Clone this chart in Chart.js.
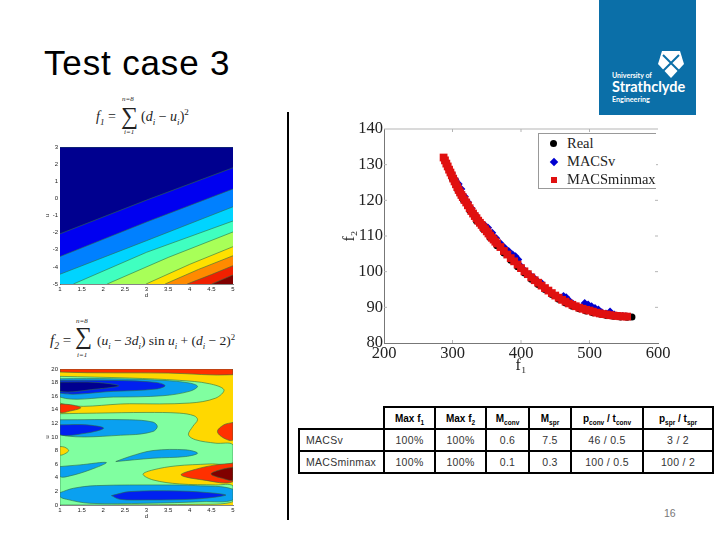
<!DOCTYPE html>
<html>
<head>
<meta charset="utf-8">
<title>Test case 3</title>
<script src="https://cdn.jsdelivr.net/npm/chart.js@4/dist/chart.umd.min.js"></script>
<style>
  html, body { margin: 0; padding: 0; background: #fff; }
  #page { position: relative; width: 720px; height: 540px; overflow: hidden; font-family: "Liberation Sans", Arial, sans-serif; }
  #page > * { position: absolute; }
  #title { left: 44px; top: 43px; font-size: 35px; line-height: 40px; color: #000; white-space: nowrap; letter-spacing: 0.85px; }
  #logo { left: 599px; top: 0; width: 97px; height: 115px; background: #0b6fa8; color: #fff; font-family: Lato, "Open Sans", sans-serif; font-weight: bold; }
  #logo div { position: absolute; left: 13px; white-space: nowrap; }
  #divider { left: 287px; top: 112px; width: 2px; height: 408px; background: #000; }
  #pagenum { left: 664px; top: 507px; font-size: 10.5px; color: #777; }
  .f { font-family: "Liberation Serif", serif; color: #222; white-space: nowrap; font-style: italic; }
  .sum { font-style: normal; }
  sub, sup { font-size: 65%; line-height: 0; }
  #legend { left: 538px; top: 133px; width: 117px; height: 54px; background: #fff; border: 1px solid #999; border-right: none; font-family: "Liberation Serif", serif; font-size: 14.5px; color: #222; }
  #legend div { position: absolute; left: 28px; line-height: 18px; white-space: nowrap; }
  #legend i { position: absolute; }
  #stats { left: 298px; top: 406px; border-collapse: collapse; table-layout: fixed; width: 414px; font-size: 10.5px; color: #333; letter-spacing: 0.3px; }
  #stats td, #stats th { border: 2px solid #000; padding: 0; text-align: center; height: 20px; overflow: hidden; }
  #stats th { font-size: 10px; color: #000; letter-spacing: 0; }
  #stats th:first-child { border-top: none; border-left: none; }
  #stats td:first-child { text-align: left; padding-left: 6px; }
</style>
</head>
<body>
<div id="page">
  <div id="title">Test case 3</div>
  <div id="logo">
    <svg style="position:absolute;left:59px;top:51px" width="26" height="27" viewBox="0 0 26 27">
      <polygon points="4,0 22,0 26,13 13,27 0,13" fill="#fff"/>
      <path d="M5 4 L21 20 M21 4 L5 20" stroke="#0b6fa8" stroke-width="2"/>
    </svg>
    <div style="top:71px;font-size:7px">University of</div>
    <div style="top:78px;font-size:14.5px">Strathclyde</div>
    <div style="top:95px;font-size:7.2px">Engineering</div>
  </div>

  <div class="f" style="left:96px;top:109px;font-size:14px">f<sub>1</sub> <span class="sum">=</span></div>
  <div class="f" style="left:122px;top:95px;font-size:7px">n=8</div>
  <div class="f sum" style="left:121px;top:103px;font-size:24px">∑</div>
  <div class="f" style="left:124px;top:128px;font-size:7px">i=1</div>
  <div class="f" style="left:141px;top:109px;font-size:14px"><span class="sum">(</span>d<sub>i</sub> <span class="sum">−</span> u<sub>i</sub><span class="sum">)<sup>2</sup></span></div>

  <div class="f" style="left:50px;top:332px;font-size:15px">f<sub>2</sub> <span class="sum">=</span></div>
  <div class="f" style="left:76px;top:317px;font-size:7px">n=8</div>
  <div class="f sum" style="left:75px;top:323px;font-size:24px">∑</div>
  <div class="f" style="left:77px;top:351px;font-size:7px">i=1</div>
  <div class="f" style="left:97px;top:333px;font-size:13.5px"><span class="sum">(</span>u<sub>i</sub> <span class="sum">−</span> 3d<sub>i</sub><span class="sum">) sin </span>u<sub>i</sub> <span class="sum">+ (</span>d<sub>i</sub> <span class="sum">− 2)<sup>2</sup></span></div>

  <canvas id="chart-f1" width="201" height="170" style="left:44px;top:140px"></canvas>
  <canvas id="chart-f2" width="201" height="162" style="left:44px;top:362px"></canvas>
  <div id="divider"></div>
  <canvas id="chart-front" width="340" height="270" style="left:340px;top:110px"></canvas>

  <div id="legend">
    <i style="left:11px;top:6px;width:7px;height:7px;border-radius:50%;background:#000"></i>
    <div style="top:0px">Real</div>
    <i style="left:12px;top:25px;width:6px;height:6px;background:#0000d0;transform:rotate(45deg)"></i>
    <div style="top:18px">MACSv</div>
    <i style="left:12px;top:43px;width:6px;height:6px;background:#e01010"></i>
    <div style="top:36px">MACSminmax</div>
  </div>

  <table id="stats">
    <colgroup><col style="width:85px"><col style="width:51px"><col style="width:51px"><col style="width:43px"><col style="width:42px"><col style="width:72px"><col style="width:70px"></colgroup>
    <tr><th></th><th>Max f<sub>1</sub></th><th>Max f<sub>2</sub></th><th>M<sub>conv</sub></th><th>M<sub>spr</sub></th><th>p<sub>conv</sub> / t<sub>conv</sub></th><th>p<sub>spr</sub> / t<sub>spr</sub></th></tr>
    <tr><td>MACSv</td><td>100%</td><td>100%</td><td>0.6</td><td>7.5</td><td>46 / 0.5</td><td>3 / 2</td></tr>
    <tr><td>MACSminmax</td><td>100%</td><td>100%</td><td>0.1</td><td>0.3</td><td>100 / 0.5</td><td>100 / 2</td></tr>
  </table>
  <div id="pagenum">16</div>
</div>

<script>
// Pareto front
const realX = [287,293,300,308,316,325,335,345,355,365,375,385,395,405,415,425,435,445,455,465,475,485,495,505,515,525,535,545,555,562];
const realY = [131.9,129.2,126,122.8,120.1,117.2,114.2,111.9,109.5,107.3,105.2,103.2,101.4,99.6,97.9,96.4,95,93.6,92.3,91.2,90.3,89.6,89,88.5,88.1,87.7,87.5,87.3,87.2,87.3];
const macsvX = [290,294,299,304,309,313,318,323,328,333,338,343,348,352,358,364,370,376,382,388,392,396,400,405,412,418,424,430,436,442,448,455,462,466,470,476,482,488,493,498,503,508,513,518,524,530,536,542,548,553];
const macsvY = [130.8,129.2,127.6,125.9,124.6,123.2,121.1,119.4,117.7,116,114.6,113.6,112.9,112.3,110.9,109.4,108,106.8,105.8,104.8,104.3,103.4,101.5,100.4,99.3,98.4,97.4,96.8,95,94.5,93.5,92.8,93.2,92.8,92,91,90.2,90,91.2,90.8,90.3,89.8,89.4,88.6,88.3,88.8,88,87.6,87.6,87.5];
const minmaxX = [287,289,291,293,295,297,299,301,303,305,307,309,311,313,315,317.5,320,322.5,325,327.5,330,332.5,335,337.5,340,342.5,345,347.5,350,352.5,355,357.5,360,362.5,365,370,375,380,385,390,395,400,405,410,415,420,425,430,435,440,445,450,455,460,465,470,475,480,485,490,495,500,505,510,515,520,525,530,535,540,545,550,555];
const minmaxY = [132,131.2,130.3,129.5,128.6,127.8,127,126.1,125.3,124.5,123.7,122.9,122.2,121.5,120.9,120.1,119.4,118.6,117.8,117,116.3,115.6,115,114.3,113.7,113.1,112.5,111.9,111.3,110.7,110.1,109.5,109,108.4,107.9,106.9,105.8,104.8,103.8,102.9,102,101,100.1,99.3,98.4,97.6,96.9,96.1,95.4,94.7,94,93.3,92.7,92.1,91.6,91.1,90.7,90.3,89.9,89.6,89.3,89.1,88.8,88.5,88.3,88.1,88,87.8,87.7,87.6,87.5,87.45,87.4];
const frontTicksX = [200,300,400,500,600];
const frontTicksY = [80,90,100,110,120,130,140];

// contour plot of f1, boundary of each band
const f1Colors = ['#00008f','#0000f0','#0080ff','#00d4ff','#40ffc0','#a8ff58','#ffe000','#ff8a00','#f02000','#800000'];
const f1Lines = [
  [[1,3],[5,3]],
  [[1,-2.07],[3,-0.1],[5,1.79]],
  [[1,-3.4],[3,-1.38],[5,0.55]],
  [[1,-4.43],[3,-2.47],[5,-0.49]],
  [[1.31,-5],[3,-3.15],[5,-1.32]],
  [[2.09,-5],[3.5,-3.45],[5,-1.96]],
  [[2.99,-5],[4,-3.85],[5,-2.82]],
  [[3.43,-5],[4.2,-4.15],[5,-3.35]],
  [[3.94,-5],[4.5,-4.45],[5,-3.93]],
  [[4.51,-5],[5,-4.47]]
];

// contour plot of f2, closed regions
const yellow = '#ffd800', green = '#80ffa0', azure = '#0aa0f0', blue = '#0020f0', navy = '#000090', red = '#ff3000', darkred = '#800000';
const f2Colors = [red, green, red, green, yellow, red, darkred, red, azure, blue, navy, azure, blue, azure, azure, azure, blue];
const f2Shapes = [
  [[1,20],[5,20],[5,19.16],[3.5,19.4],[1,19.55]],
  [[1,18.92],[2.61,18.67],[3.76,18.33],[4.45,17.84],[4.79,16.95],[4.6,15.72],[3.99,14.99],[2.61,14.89],[1,14.99]],
  [[1,14.84],[1.25,14.75],[1.48,14.3],[1.25,13.85],[1,13.61]],
  [[1,13.42],[1.84,13.51],[2.99,13.61],[3.76,13.51],[4.1,13.12],[4.18,12.53],[4.07,11.55],[3.97,10.32],[4.14,9.58],[4.6,9.09],[5,8.85],[5,6.24],[4.45,6.04],[3.68,5.75],[3.15,5.16],[2.92,4.52],[3.15,3.69],[3.76,3.1],[4.6,2.95],[5,2.8],[5,0.49],[4.14,0.1],[1,0]],
  [[1,8.6],[1.11,8.5],[1.2,8.01],[1.11,7.52],[1,7.37]],
  [[5,6.14],[4.6,5.9],[4.14,5.26],[3.8,4.42],[4.3,3.69],[5,3.44]],
  [[5,5.55],[4.75,5.26],[4.49,4.57],[4.75,3.93],[5,3.69]],
  [[5,12.14],[4.79,11.79],[4.64,10.81],[4.79,9.83],[5,9.58]],
  [[1,18.57],[2.23,18.57],[3.38,18.33],[3.99,17.94],[4.18,17.44],[3.99,16.71],[3.38,16.07],[2.23,15.87],[1,15.87]],
  [[1,18.33],[2.23,18.33],[3.22,18.03],[3.43,17.54],[3.22,17.05],[2.23,16.71],[1,16.46]],
  [[1,18.08],[1.84,18.03],[2.36,17.54],[1.84,17.05],[1,16.71]],
  [[1,12.53],[2.61,12.53],[3.15,12.19],[3.25,11.55],[3.15,10.81],[2.61,10.32],[1,10.32]],
  [[1,11.79],[1.61,11.79],[2.01,11.3],[1.61,10.57],[1,10.32]],
  [[2.29,6.39],[2.61,7.13],[3.15,8.01],[3.91,8.11],[4.18,7.62],[3.91,7.13],[3.15,6.88],[2.29,6.39]],
  [[1,5.65],[1.46,5.9],[2.07,6.24],[1.69,5.16],[1.23,4.28],[1,4.18]],
  [[1,1.82],[1.31,2.46],[1.84,2.85],[3.38,2.95],[4.14,2.85],[5,2.31],[5,0.74],[4.3,0.49],[2.99,0.25],[1.69,0.25],[1.15,0.84],[1,1.23]],
  [[2.19,1.38],[2.61,1.97],[3.76,2.06],[4.6,1.72],[4.83,1.43],[4.14,0.88],[2.99,0.74],[2.38,0.84]]
];

const contourTicksX = [1,1.5,2,2.5,3,3.5,4,4.5,5];
const f1TicksY = [-5,-4,-3,-2,-1,0,1,2,3];
const f2TicksY = [0,2,4,6,8,10,12,14,16,18,20];
const contourLine = '#2f6e40';

// fixed axis sizes so that the plot area lands where it should
function fixAxis(size) {
  return function (scale) {
    if (scale.isHorizontal()) scale.height = size; else scale.width = size;
  };
}
function setTicks(values) {
  return function (scale) { scale.ticks = values.map(v => ({ value: v })); };
}
function plainLabel(value) {
  return String(value);
}

function contourOptions(ticksY, minY, maxY, yName, bottomPad) {
  const tickFont = { family: 'Liberation Sans', size: 6 };
  return {
    responsive: false,
    animation: false,
    events: [],
    layout: { padding: { top: 7, right: 12, bottom: bottomPad, left: 0 } },
    plugins: { legend: { display: false }, tooltip: { enabled: false } },
    scales: {
      x: {
        type: 'linear', min: 1, max: 5,
        grid: { display: false, drawTicks: false },
        border: { color: '#333', width: 0.6 },
        ticks: { font: tickFont, color: '#222', padding: 2, maxRotation: 0, autoSkip: false, callback: plainLabel },
        title: { display: true, text: 'd', font: tickFont, color: '#222', padding: 0 },
        afterBuildTicks: setTicks(contourTicksX),
        afterFit: fixAxis(15)
      },
      y: {
        type: 'linear', min: minY, max: maxY,
        grid: { display: false, drawTicks: false },
        border: { color: '#333', width: 0.6 },
        ticks: { font: tickFont, color: '#222', padding: 2, autoSkip: false, callback: plainLabel },
        title: { display: true, text: yName, font: tickFont, color: '#222', padding: 0 },
        afterBuildTicks: setTicks(ticksY),
        afterFit: fixAxis(16)
      }
    }
  };
}

function toPoints(pairs) {
  return pairs.map(p => ({ x: p[0], y: p[1] }));
}

// later bands paint over earlier ones
const f1Datasets = f1Lines.map((line, i) => ({
  data: toPoints(line),
  showLine: true,
  tension: 0,
  pointRadius: 0,
  borderWidth: 0.6,
  borderColor: contourLine,
  backgroundColor: f1Colors[i],
  fill: 'start',
  order: f1Lines.length - i
}));

new Chart(document.getElementById('chart-f1'), {
  type: 'scatter',
  data: { datasets: f1Datasets },
  options: contourOptions(f1TicksY, -5, 3, 'u', 11)
});

const f2Base = {
  data: toPoints([[1,20],[5,20]]),
  showLine: true, pointRadius: 0, borderWidth: 0,
  backgroundColor: yellow, fill: 'start', order: 100
};
const f2Datasets = [f2Base].concat(f2Shapes.map((shape, i) => ({
  data: toPoints(shape.concat([shape[0]])),
  showLine: true,
  tension: 0.35,
  pointRadius: 0,
  borderWidth: 0.6,
  borderColor: contourLine,
  backgroundColor: f2Colors[i],
  fill: 'shape',
  order: f2Shapes.length - i
})));

new Chart(document.getElementById('chart-f2'), {
  type: 'scatter',
  data: { datasets: f2Datasets },
  options: contourOptions(f2TicksY, 0, 20, 'u', 4)
});

// faint box and inward ticks on the top and right of the front plot
const faintFrame = {
  id: 'faintFrame',
  afterDraw(chart) {
    const { ctx, chartArea: a, scales } = chart;
    ctx.save();
    ctx.strokeStyle = '#b5b5b5';
    ctx.lineWidth = 1;
    ctx.beginPath();
    ctx.moveTo(a.left, a.top); ctx.lineTo(a.right, a.top);
    frontTicksX.slice(1, -1).forEach(v => {
      const px = scales.x.getPixelForValue(v);
      ctx.moveTo(px, a.top); ctx.lineTo(px, a.top + 3);
      ctx.moveTo(px, a.bottom); ctx.lineTo(px, a.bottom - 3);
    });
    frontTicksY.slice(1, -1).forEach(v => {
      const py = scales.y.getPixelForValue(v);
      ctx.moveTo(a.right, py); ctx.lineTo(a.right - 3, py);
      ctx.moveTo(a.left, py); ctx.lineTo(a.left + 3, py);
    });
    ctx.stroke();
    ctx.restore();
  }
};

const serifFont = { family: 'Liberation Serif', size: 16.5 };

new Chart(document.getElementById('chart-front'), {
  type: 'scatter',
  data: {
    datasets: [
      { label: 'Real', data: realX.map((x, i) => ({ x, y: realY[i] })), pointStyle: 'circle', pointRadius: 3.5, backgroundColor: '#000', borderWidth: 0, order: 3 },
      { label: 'MACSv', data: macsvX.map((x, i) => ({ x, y: macsvY[i] })), pointStyle: 'rectRot', pointRadius: 4, backgroundColor: '#0000d0', borderWidth: 0, order: 2 },
      { label: 'MACSminmax', data: minmaxX.map((x, i) => ({ x, y: minmaxY[i] })), pointStyle: 'rect', pointRadius: 5.5, backgroundColor: '#e01010', borderWidth: 0, order: 1 }
    ]
  },
  options: {
    responsive: false,
    animation: false,
    events: [],
    layout: { padding: { top: 19, right: 22, bottom: 5, left: 0 } },
    plugins: { legend: { display: false }, tooltip: { enabled: false } },
    scales: {
      x: {
        type: 'linear', min: 200, max: 600,
        grid: { display: false, drawTicks: false },
        border: { color: '#777' },
        ticks: { font: serifFont, color: '#222', padding: 1, maxRotation: 0, autoSkip: false },
        title: { display: true, text: 'f₁', font: { family: 'Liberation Serif', size: 16 }, color: '#222', padding: 0 },
        afterBuildTicks: setTicks(frontTicksX),
        afterFit: fixAxis(32)
      },
      y: {
        type: 'linear', min: 80, max: 140,
        grid: { display: false, drawTicks: false },
        border: { color: '#777' },
        ticks: { font: serifFont, color: '#222', padding: 1, autoSkip: false },
        title: { display: true, text: 'f₂', font: { family: 'Liberation Serif', size: 16 }, color: '#222', padding: 0 },
        afterBuildTicks: setTicks(frontTicksY),
        afterFit: fixAxis(44)
      }
    }
  },
  plugins: [faintFrame]
});
</script>
</body>
</html>
